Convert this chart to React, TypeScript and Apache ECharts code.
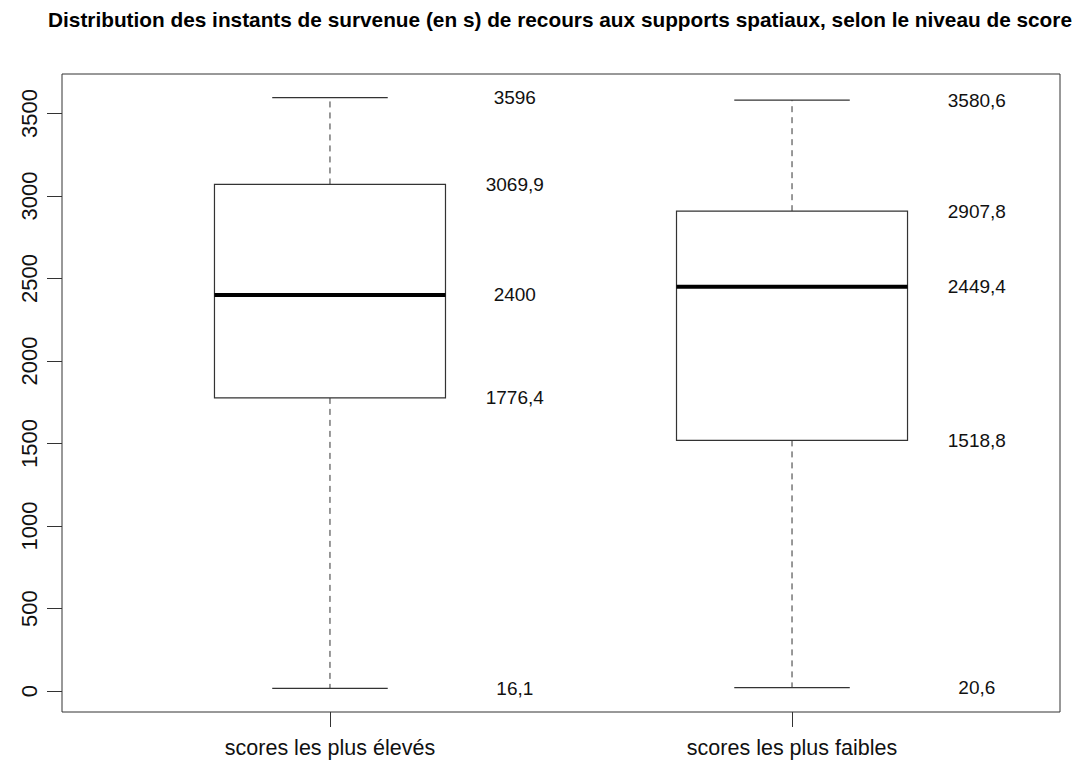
import React, { useEffect, useRef } from "react";
import * as echarts from "echarts";

const titleText =
  "Distribution des instants de survenue (en s) de recours aux supports spatiaux, selon le niveau de score";
const categories = ["scores les plus élevés", "scores les plus faibles"];
const minValues = [16.1, 20.6];
const q1Values = [1776.4, 1518.8];
const medianValues = [2400, 2449.4];
const q3Values = [3069.9, 2907.8];
const maxValues = [3596, 3580.6];
const yTicks = [0, 500, 1000, 1500, 2000, 2500, 3000, 3500];

const FONT = "'Liberation Sans', Arial, Helvetica, sans-serif";
const fmt = (v: number) => String(v).replace(".", ",");

export default function App() {
  const ref = useRef<HTMLDivElement>(null);
  useEffect(() => {
    document.body.style.margin = "0";
    const chart = echarts.init(ref.current!, null, { renderer: "svg" });
    const data = categories.map((_, i) => [
      i + 1,
      minValues[i],
      q1Values[i],
      medianValues[i],
      q3Values[i],
      maxValues[i],
    ]);
    const lineColor = "#333";
    chart.setOption({
      animation: false,
      backgroundColor: "#fff",
      title: {
        text: titleText,
        left: 555,
        top: 4,
        textAlign: "center",
        textStyle: { fontFamily: FONT, fontWeight: "bold", fontSize: 20.8, color: "#000" },
      },
      grid: {
        left: 62,
        right: 26,
        top: 74,
        bottom: 60,
        show: true,
        borderColor: lineColor,
        borderWidth: 1,
        backgroundColor: "transparent",
      },
      xAxis: {
        type: "value",
        min: 0.42,
        max: 2.58,
        splitLine: { show: false },
        axisLine: { show: false, onZero: false },
        axisTick: {
          show: true,
          length: 15,
          customValues: [1, 2],
          lineStyle: { color: lineColor },
        },
        axisLabel: {
          customValues: [1, 2],
          formatter: (v: number) => categories[Math.round(v) - 1] ?? "",
          fontFamily: FONT,
          fontSize: 21.5,
          color: "#111",
          margin: 25,
        },
      },
      yAxis: {
        type: "value",
        min: -127.1,
        max: 3739.2,
        splitLine: { show: false },
        axisLine: { show: false, onZero: false },
        axisTick: {
          show: true,
          length: 15,
          customValues: yTicks,
          lineStyle: { color: lineColor },
        },
        axisLabel: {
          customValues: yTicks,
          formatter: (v: number) => String(v),
          rotate: 90,
          fontFamily: FONT,
          fontSize: 22,
          color: "#111",
          margin: 22,
        },
      },
      series: [
        {
          type: "custom",
          data,
          encode: { x: 0, y: [1, 2, 3, 4, 5] },
          renderItem: (params: any, api: any) => {
            const x = api.value(0);
            const vals = [1, 2, 3, 4, 5].map((k) => api.value(k));
            const [mn, q1, md, q3, mx] = vals;
            const p = (xv: number, yv: number) => api.coord([xv, yv]);
            const boxHalf = 0.25;
            const capHalf = 0.125;
            const lt = p(x - boxHalf, q3);
            const rb = p(x + boxHalf, q1);
            const dashed = { stroke: lineColor, lineWidth: 1, lineDash: [6, 5] };
            const solid = { stroke: lineColor, lineWidth: 1.2 };
            const children: any[] = [
              {
                type: "line",
                shape: { x1: p(x, q3)[0], y1: p(x, q3)[1], x2: p(x, mx)[0], y2: p(x, mx)[1] },
                style: dashed,
              },
              {
                type: "line",
                shape: { x1: p(x, q1)[0], y1: p(x, q1)[1], x2: p(x, mn)[0], y2: p(x, mn)[1] },
                style: dashed,
              },
              {
                type: "line",
                shape: {
                  x1: p(x - capHalf, mx)[0],
                  y1: p(x, mx)[1],
                  x2: p(x + capHalf, mx)[0],
                  y2: p(x, mx)[1],
                },
                style: solid,
              },
              {
                type: "line",
                shape: {
                  x1: p(x - capHalf, mn)[0],
                  y1: p(x, mn)[1],
                  x2: p(x + capHalf, mn)[0],
                  y2: p(x, mn)[1],
                },
                style: solid,
              },
              {
                type: "rect",
                shape: { x: lt[0], y: lt[1], width: rb[0] - lt[0], height: rb[1] - lt[1] },
                style: { fill: "#fff", stroke: lineColor, lineWidth: 1.2 },
              },
              {
                type: "line",
                shape: {
                  x1: p(x - boxHalf, md)[0],
                  y1: p(x, md)[1],
                  x2: p(x + boxHalf, md)[0],
                  y2: p(x, md)[1],
                },
                style: { stroke: "#000", lineWidth: 4 },
              },
            ];
            vals.forEach((v) => {
              const c = p(x + 0.4, v);
              children.push({
                type: "text",
                x: c[0],
                y: c[1],
                style: {
                  text: fmt(v),
                  fontFamily: FONT,
                  fontSize: 19,
                  fill: "#111",
                  align: "center",
                  verticalAlign: "middle",
                },
              });
            });
            return { type: "group", children };
          },
        },
      ],
    });
    return () => chart.dispose();
  }, []);
  return <div ref={ref} style={{ width: 1086, height: 772 }} />;
}
